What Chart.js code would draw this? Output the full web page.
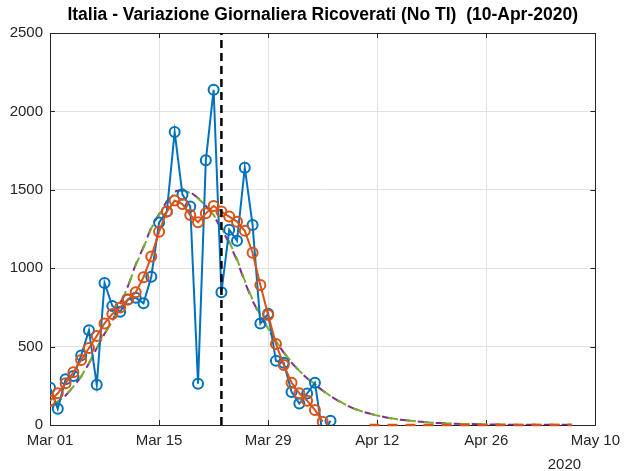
<!DOCTYPE html>
<html><head><meta charset="utf-8">
<script src="https://cdn.jsdelivr.net/npm/chart.js@4.4.1/dist/chart.umd.min.js"></script>
<style>html,body{margin:0;padding:0;background:#fff}canvas{display:block}</style>
</head><body>
<canvas id="c" width="627" height="471"></canvas>
<script>
// ---------- data ----------
const titleText = "Italia - Variazione Giornaliera Ricoverati (No TI)  (10-Apr-2020)";
const tickLabels = ["Mar 01", "Mar 15", "Mar 29", "Apr 12", "Apr 26", "May 10"]; // every 14 days from Mar 01
const yearLabel = "2020";
const yTicks = [0, 500, 1000, 1500, 2000, 2500];

// daily change, Mar 01 .. Apr 06 (day 0 = Mar 01)
const dailyStart = 0;
const dailyValues = [238, 103, 292, 312, 444, 604, 257, 906, 759, 722, 800, 812, 776, 946, 1291, 1362,
  1869, 1469, 1394, 263, 1688, 2138, 846, 1245, 1175, 1641, 1276, 647, 710, 409, 397, 211, 137, 201, 269, -61, 27];

// smoothed series, Mar 01 .. Apr 05
const smoothStart = 0;
const smoothValues = [155, 202, 266, 336, 415, 491, 568, 648, 708, 750, 801, 846, 942, 1074, 1233, 1361,
  1431, 1409, 1339, 1293, 1350, 1397, 1361, 1329, 1297, 1239, 1099, 893, 702, 517, 383, 270, 202, 155, 96, 21];

// fitted curves, Mar 01 .. May 07
const fitStart = 0;
const fitGreen = [120, 150, 190, 245, 310, 395, 490, 580, 660, 770, 880, 1020, 1130, 1255, 1340, 1420,
  1480, 1495, 1480, 1445, 1400, 1340, 1260, 1170, 1060, 920, 800, 700, 615, 535, 465, 400, 345, 300, 260,
  220, 185, 155, 128, 105, 88, 74, 60, 50, 41, 34, 28, 23, 19, 15, 12, 10, 8, 7, 6, 5, 4, 3, 3, 2, 2, 1, 1, 1, 1, 1, 1, 1];
const fitPurple = [118, 148, 188, 243, 308, 393, 490, 582, 664, 775, 885, 1025, 1135, 1260, 1345, 1428,
  1488, 1503, 1486, 1448, 1398, 1335, 1252, 1160, 1050, 912, 792, 695, 610, 532, 462, 398, 343, 298, 258,
  219, 184, 154, 127, 104, 87, 73, 60, 50, 41, 34, 28, 23, 19, 15, 12, 10, 8, 7, 6, 5, 4, 3, 3, 2, 2, 1, 1, 1, 1, 1, 1, 1];

// forecast (flat zero), Apr 11 .. May 07
const forecastStart = 41;
const forecastValues = [0, 0, 0, 0, 0, 0, 0, 0, 0, 0, 0, 0, 0, 0, 0, 0, 0, 0, 0, 0, 0, 0, 0, 0, 0, 0, 0];

// reference date marker (Mar 23)
const markerDay = 22;

// ---------- build ----------
const toPts = (arr, start) => arr.map((v, i) => ({ x: start + i, y: v }));
const BLUE = '#0072BD', ORANGE = '#D95319', PURPLE = '#7E2F8E', GREEN = '#77AC30';
const AXIS = '#262626', GRID = '#e2e2e2';
const FONT = "'Liberation Sans', Arial, Helvetica, sans-serif";

const boxPlugin = {
  id: 'box',
  beforeDatasetsDraw(chart) {
    const { ctx, chartArea: a, scales } = chart;
    ctx.save();
    ctx.strokeStyle = AXIS;
    ctx.lineWidth = 1;
    ctx.beginPath();
    ctx.rect(Math.round(a.left) + 0.5, Math.round(a.top) + 0.5, Math.round(a.right - a.left), Math.round(a.bottom - a.top));
    ctx.stroke();
    const L = 5;
    ctx.beginPath();
    scales.x.ticks.forEach(t => {
      const px = Math.round(scales.x.getPixelForValue(t.value)) + 0.5;
      ctx.moveTo(px, a.bottom); ctx.lineTo(px, a.bottom - L);
      ctx.moveTo(px, a.top); ctx.lineTo(px, a.top + L);
    });
    scales.y.ticks.forEach(t => {
      const py = Math.round(scales.y.getPixelForValue(t.value)) + 0.5;
      ctx.moveTo(a.left, py); ctx.lineTo(a.left + L, py);
      ctx.moveTo(a.right, py); ctx.lineTo(a.right - L, py);
    });
    ctx.stroke();
    ctx.fillStyle = AXIS;
    ctx.font = "15px " + FONT;
    ctx.textAlign = 'center';
    ctx.textBaseline = 'middle';
    ctx.fillText(yearLabel, a.right - 31, 465);
    ctx.restore();
  }
};

const circ = (color) => ({
  borderColor: color, borderWidth: 2, pointRadius: 5, pointBorderWidth: 2,
  pointBackgroundColor: 'rgba(0,0,0,0)', pointBorderColor: color, pointStyle: 'circle', tension: 0
});

new Chart(document.getElementById('c'), {
  type: 'line',
  data: {
    datasets: [
      { data: [{ x: markerDay, y: yTicks[0] }, { x: markerDay, y: yTicks[yTicks.length - 1] }],
        borderColor: '#000', borderWidth: 2.5, borderDash: [8, 5], pointRadius: 0, order: 0 },
      Object.assign({ data: toPts(smoothValues, smoothStart), order: 1 }, circ(ORANGE)),
      Object.assign({ data: toPts(dailyValues, dailyStart), order: 2 }, circ(BLUE)),
      { data: toPts(forecastValues, forecastStart), borderColor: ORANGE, borderWidth: 2.5, borderDash: [10, 8], pointRadius: 0, order: 3, clip: 3 },
      { data: toPts(fitGreen, fitStart), borderColor: GREEN, borderWidth: 2, borderDash: [10, 8], borderDashOffset: 14, pointRadius: 0, order: 4 },
      { data: toPts(fitPurple, fitStart), borderColor: PURPLE, borderWidth: 2, borderDash: [10, 8], pointRadius: 0, order: 5 }
    ]
  },
  options: {
    responsive: false, animation: false,
    layout: { padding: { left: 0, right: 26, top: 0, bottom: 0 } },
    plugins: {
      legend: { display: false }, tooltip: { enabled: false },
      title: { display: true, text: titleText, fullSize: false, color: '#000',
        font: { family: FONT, size: 17.5, weight: 'bold' }, padding: { top: 5, bottom: 7 } }
    },
    scales: {
      x: {
        type: 'linear', min: 0, max: 70,
        afterBuildTicks: s => { s.ticks = tickLabels.map((_, i) => ({ value: i * 14 })); },
        afterFit: s => { s.height = 46; },
        ticks: { callback: (v) => tickLabels[Math.round(v / 14)], color: AXIS, font: { family: FONT, size: 15 }, padding: 7, maxRotation: 0, autoSkip: false },
        grid: { color: GRID, drawTicks: false }, border: { display: false }
      },
      y: {
        min: 0, max: 2500,
        afterBuildTicks: s => { s.ticks = yTicks.map(v => ({ value: v })); },
        afterFit: s => { s.width = 50; },
        ticks: { callback: (v) => String(v), color: AXIS, font: { family: FONT, size: 15 }, padding: 7 },
        grid: { color: GRID, drawTicks: false }, border: { display: false }
      }
    }
  },
  plugins: [boxPlugin]
});
</script>
</body></html>
